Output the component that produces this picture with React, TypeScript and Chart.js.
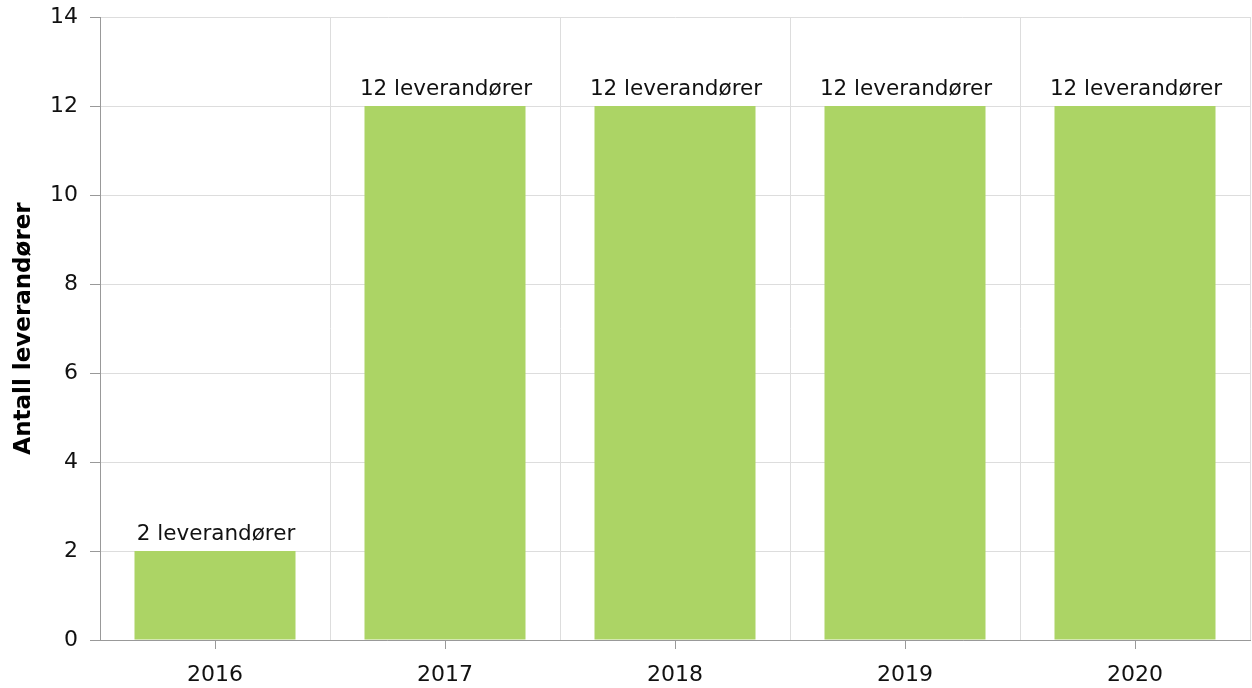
import React, { useEffect, useRef } from "react";
import { Chart, registerables } from "chart.js";

Chart.register(...registerables);

const categories = ["2016", "2017", "2018", "2019", "2020"];
const values = [2, 12, 12, 12, 12];
const valueLabels = ["2 leverandører", "12 leverandører", "12 leverandører", "12 leverandører", "12 leverandører"];
const yTitle = "Antall leverandører";

const FONT = "'DejaVu Sans', Verdana, sans-serif";

const labelPlugin = {
  id: "barLabels",
  afterDatasetsDraw(chart: any) {
    const ctx = chart.ctx;
    const meta = chart.getDatasetMeta(0);
    ctx.save();
    ctx.font = `21.5px ${FONT}`;
    ctx.fillStyle = "#111";
    ctx.textAlign = "center";
    ctx.textBaseline = "bottom";
    meta.data.forEach((bar: any, i: number) => {
      ctx.fillText(valueLabels[i], bar.x + 1, bar.y - 6);
    });
    const xs = chart.scales.x;
    const bottom = chart.chartArea.bottom;
    ctx.strokeStyle = "#999";
    ctx.lineWidth = 1;
    categories.forEach((_, i) => {
      const x = Math.round(xs.getPixelForValue(i)) + 0.5;
      ctx.beginPath();
      ctx.moveTo(x, bottom);
      ctx.lineTo(x, bottom + 9);
      ctx.stroke();
    });
    ctx.restore();
  },
};

export default function App() {
  const ref = useRef<HTMLCanvasElement>(null);
  useEffect(() => {
    document.body.style.margin = "0";
    const chart = new Chart(ref.current!, {
      type: "bar",
      data: {
        labels: categories,
        datasets: [
          {
            data: values,
            backgroundColor: "#acd465",
            borderWidth: 0,
            categoryPercentage: 0.7,
            barPercentage: 1,
          },
        ],
      },
      options: {
        animation: false,
        responsive: false,
        maintainAspectRatio: false,
        layout: { padding: { top: 17, right: 2, left: 0, bottom: 0 } },
        plugins: { legend: { display: false }, tooltip: { enabled: false } },
        scales: {
          x: {
            grid: { offset: true, color: "#dddddd", drawTicks: false },
            border: { color: "#999999" },
            ticks: { color: "#111", font: { family: FONT, size: 22 }, padding: 22 },
            afterFit(scale: any) {
              scale.height = 48;
              scale.paddingLeft = 0;
              scale.paddingRight = 0;
            },
          },
          y: {
            min: 0,
            max: 14,
            ticks: { stepSize: 2, color: "#111", font: { family: FONT, size: 22 }, padding: 12 },
            grid: { color: "#dddddd", tickColor: "#999999", tickLength: 10 },
            border: { color: "#999999" },
            title: {
              display: true,
              text: yTitle,
              color: "#000",
              font: { family: FONT, size: 23, weight: "bold" },
              padding: { top: 10, bottom: 0 },
            },
            afterFit(scale: any) {
              scale.width = 100;
              scale.paddingTop = 0;
              scale.paddingBottom = 0;
            },
          },
        },
      },
      plugins: [labelPlugin],
    });
    return () => chart.destroy();
  }, []);
  return (
    <div style={{ width: 1252, height: 688 }}>
      <canvas ref={ref} width={1252} height={688} style={{ display: "block" }} />
    </div>
  );
}
